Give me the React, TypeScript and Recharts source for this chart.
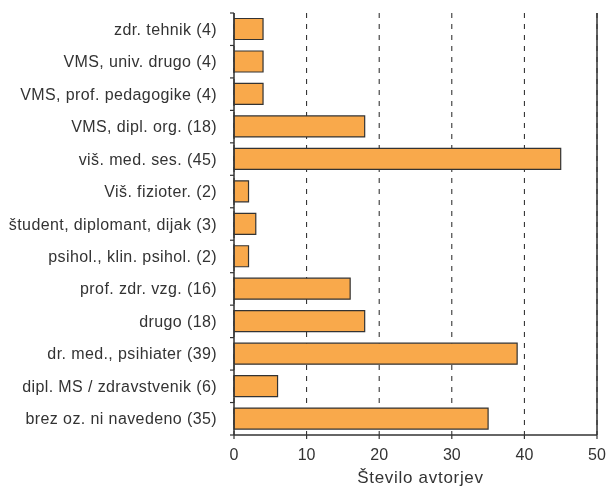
import React from "react";
import { BarChart, Bar, XAxis, YAxis, CartesianGrid, ReferenceLine } from "recharts";

const categories = [
  "zdr. tehnik (4)",
  "VMS, univ. drugo (4)",
  "VMS, prof. pedagogike (4)",
  "VMS, dipl. org. (18)",
  "viš. med. ses. (45)",
  "Viš. fizioter. (2)",
  "študent, diplomant, dijak (3)",
  "psihol., klin. psihol. (2)",
  "prof. zdr. vzg. (16)",
  "drugo (18)",
  "dr. med., psihiater (39)",
  "dipl. MS / zdravstvenik (6)",
  "brez oz. ni navedeno (35)",
];
const values = [4, 4, 4, 18, 45, 2, 3, 2, 16, 18, 39, 6, 35];
const xTicks = [0, 10, 20, 30, 40, 50];
const axisTitle = "Število avtorjev";

const data = categories.map((c, i) => ({ name: c, value: values[i] }));

const FONT = "'Liberation Sans', Arial, Helvetica, sans-serif";
const N = categories.length;
const PLOT_H = 422;

const CatTick = (props: any) => {
  const { x, y, payload, index } = props;
  const band = PLOT_H / N;
  return (
    <g>
      <line x1={x - 4} x2={x} y1={y - band / 2} y2={y - band / 2} stroke="#333" strokeWidth={1.2} />
      {index === N - 1 && (
        <line x1={x - 4} x2={x} y1={y + band / 2} y2={y + band / 2} stroke="#333" strokeWidth={1.2} />
      )}
      <text
        x={x - 17}
        y={y}
        textAnchor="end"
        dominantBaseline="central"
        fill="#333"
        fontSize={16}
        letterSpacing={0.4}
        fontFamily={FONT}
      >
        {payload.value}
      </text>
    </g>
  );
};

export default function App() {
  return (
    <div style={{ position: "fixed", left: 0, top: 0, width: 607, height: 487 }}>
      <BarChart
        width={607}
        height={487}
        data={data}
        layout="vertical"
        margin={{ top: 13, right: 10, left: 0, bottom: 0 }}
        barCategoryGap="17%"
      >
        <CartesianGrid horizontal={false} stroke="#222" strokeDasharray="5 6" xAxisId="bottom" />
        <XAxis
          xAxisId="bottom"
          type="number"
          domain={[0, 50]}
          ticks={xTicks}
          interval={0}
          height={52}
          axisLine={{ stroke: "#333", strokeWidth: 1.5 }}
          tickLine={{ stroke: "#333", strokeWidth: 1.2 }}
          tickSize={4}
          tickMargin={10}
          tick={{ fill: "#333", fontSize: 16, fontFamily: FONT }}
          label={{
            value: axisTitle,
            position: "insideBottom",
            offset: 4,
            dx: 5,
            fill: "#333",
            fontSize: 17,
            letterSpacing: 0.7,
            fontFamily: FONT,
          }}
        />
        <XAxis
          xAxisId="top"
          orientation="top"
          type="number"
          domain={[0, 50]}
          height={0}
          tick={false}
          tickLine={false}
          axisLine={{ stroke: "#333", strokeWidth: 1.5 }}
        />
        <YAxis
          type="category"
          dataKey="name"
          width={234}
          interval={0}
          axisLine={{ stroke: "#333", strokeWidth: 1.5 }}
          tickLine={false}
          tickSize={0}
          tickMargin={0}
          tick={<CatTick />}
        />
        <ReferenceLine xAxisId="bottom" x={50} stroke="#333" strokeWidth={1.5} ifOverflow="visible" />
        <Bar
          xAxisId="bottom"
          dataKey="value"
          fill="#F9A94B"
          stroke="#333"
          strokeWidth={1.2}
          isAnimationActive={false}
        />
      </BarChart>
    </div>
  );
}
